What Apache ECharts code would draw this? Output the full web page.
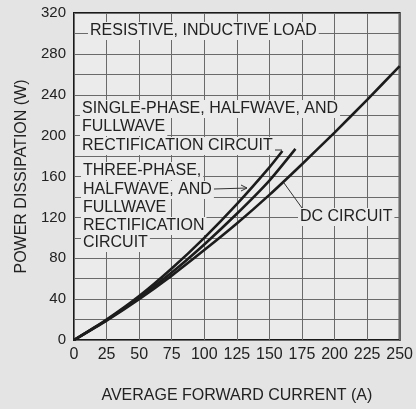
<!DOCTYPE html>
<html><head><meta charset="utf-8">
<script src="https://cdn.jsdelivr.net/npm/echarts@6/dist/echarts.min.js"></script>
<style>html,body{margin:0;padding:0;background:#e4e4e4}#c{width:416px;height:409px}</style>
</head><body><div id="c"></div>
<script>
// Data (current A, power W)
const singlePhaseI = [0, 25, 50, 75, 100, 125, 150, 160];
const singlePhaseP = [0, 20, 43, 70, 100, 133, 169, 185];
const threePhaseI = [0, 25, 50, 75, 100, 125, 150, 170];
const threePhaseP = [0, 19.5, 41.5, 66, 93.5, 123.5, 156, 187];
const dcI = [0, 25, 50, 75, 100, 125, 150, 175, 200, 225, 250];
const dcP = [0, 19, 40, 63, 88, 114, 142, 172, 203, 235, 268];
const xTicks = [0, 25, 50, 75, 100, 125, 150, 175, 200, 225, 250];
const yTicks = [0, 40, 80, 120, 160, 200, 240, 280, 320];

const pair = (xs, ys) => xs.map((x, i) => [x, ys[i]]);
const FONT = '"Liberation Sans", Arial, sans-serif';
const TXT = '#222';
const BG = '#ebebeb';

const chart = echarts.init(document.getElementById('c'));
const lineStyle = { color: '#1c1c1c', width: 2.6 };

function label(x, y, text) {
  return {
    type: 'text', left: x, top: y, z: 1,
    style: { text: text, fill: TXT, font: '16px ' + FONT, backgroundColor: BG, padding: [1, 2, 1, 2] }
  };
}
function seg(x1, y1, x2, y2) {
  return { type: 'line', z: 1, shape: { x1: x1, y1: y1, x2: x2, y2: y2 }, style: { stroke: '#333', lineWidth: 1 } };
}

chart.setOption({
  backgroundColor: '#e4e4e4',
  animation: false,
  grid: { left: 74, right: 16, top: 13, bottom: 67, show: true, backgroundColor: BG, borderColor: '#1a1a1a', borderWidth: 2 },
  xAxis: {
    type: 'value', min: xTicks[0], max: xTicks[xTicks.length - 1], interval: 25,
    name: 'AVERAGE FORWARD CURRENT (A)', nameLocation: 'middle', nameGap: 48,
    nameTextStyle: { fontFamily: FONT, fontSize: 16, color: TXT },
    axisLine: { show: false }, axisTick: { show: false },
    axisLabel: { fontFamily: FONT, fontSize: 16, color: TXT, margin: 7 },
    splitLine: { show: true, lineStyle: { color: '#6a6a6a', width: 1 } }
  },
  yAxis: {
    type: 'value', min: yTicks[0], max: yTicks[yTicks.length - 1], interval: 40,
    name: 'POWER DISSIPATION (W)', nameLocation: 'middle', nameGap: 44,
    nameTextStyle: { fontFamily: FONT, fontSize: 16, color: TXT },
    axisLine: { show: false }, axisTick: { show: false },
    axisLabel: { fontFamily: FONT, fontSize: 15, color: TXT, margin: 8 },
    splitLine: { show: true, lineStyle: { color: '#6a6a6a', width: 1 } },
    minorTick: { show: false, splitNumber: 2 },
    minorSplitLine: { show: true, lineStyle: { color: '#6a6a6a', width: 1 } }
  },
  series: [
    { type: 'line', name: 'single', data: pair(singlePhaseI, singlePhaseP), showSymbol: false, symbol: 'none', smooth: 0.2, lineStyle: lineStyle, z: 3 },
    { type: 'line', name: 'three', data: pair(threePhaseI, threePhaseP), showSymbol: false, symbol: 'none', smooth: 0.2, lineStyle: lineStyle, z: 3 },
    { type: 'line', name: 'dc', data: pair(dcI, dcP), showSymbol: false, symbol: 'none', smooth: 0.2, lineStyle: lineStyle, z: 3 }
  ],
  graphic: [
    seg(275, 150, 282, 150),
    seg(214, 189, 247, 188),
    seg(241, 185, 247, 188), seg(241, 191, 247, 188),
    seg(284, 183, 302, 208),
    label(88, 22, 'RESISTIVE, INDUCTIVE LOAD'),
    label(80, 100, 'SINGLE-PHASE, HALFWAVE, AND'),
    label(80, 118, 'FULLWAVE'),
    label(80, 137, 'RECTIFICATION CIRCUIT'),
    label(81, 162, 'THREE-PHASE,'),
    label(81, 181, 'HALFWAVE, AND'),
    label(81, 199, 'FULLWAVE'),
    label(81, 217, 'RECTIFICATION'),
    label(81, 234, 'CIRCUIT'),
    label(298, 208, 'DC CIRCUIT')
  ]
});
</script></body></html>
